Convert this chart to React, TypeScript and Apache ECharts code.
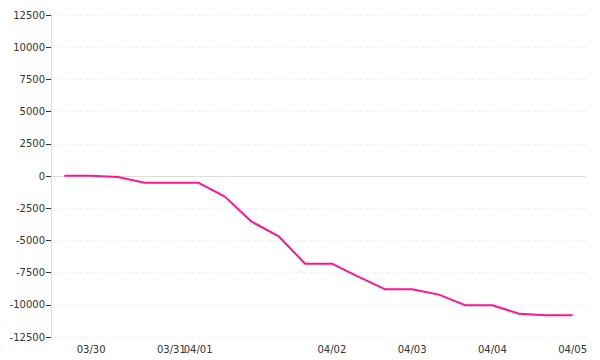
import React, { useEffect, useRef } from "react";
import * as echarts from "echarts";

const tickLabels = ["", "03/30", "", "", "03/31", "04/01", "", "", "", "", "04/02", "", "", "04/03", "", "", "04/04", "", "", "04/05"];
const categories = tickLabels.map((l, i) => `p${i}`);
const values = [20, 20, -70, -520, -520, -520, -1600, -3550, -4660, -6810, -6810, -7830, -8800, -8800, -9210, -10040, -10040, -10690, -10815, -10815];
const yTicks = [-12500, 12500, 2500];

export default function App() {
  const ref = useRef<HTMLDivElement>(null);
  useEffect(() => {
    document.body.style.margin = "0";
    const chart = echarts.init(ref.current!, null, { renderer: "svg" });
    const font = { fontFamily: "DejaVu Sans", fontSize: 10, color: "#333" };
    chart.setOption({
      animation: false,
      grid: { left: 51, right: 14, top: 15, bottom: 23 },
      xAxis: {
        type: "category",
        data: categories,
        boundaryGap: true,
        axisLine: { show: false },
        axisTick: { show: false },
        splitLine: { show: false },
        axisLabel: {
          ...font,
          interval: 0,
          margin: 7,
          formatter: (_v: string, i: number) => tickLabels[i],
        },
      },
      yAxis: {
        type: "value",
        min: yTicks[0],
        max: yTicks[1],
        interval: yTicks[2],
        axisLine: { show: true, lineStyle: { color: "#ddd", width: 1 } },
        axisTick: { show: true, length: 5, lineStyle: { color: "#333" } },
        axisLabel: { ...font, margin: 6, formatter: (v: number) => String(v) },
        splitLine: { show: true, lineStyle: { color: "#eee", type: [3, 4] } },
      },
      series: [
        {
          type: "line",
          data: [],
          silent: true,
          z: 1,
          markLine: {
            z: 1,
            silent: true,
            symbol: "none",
            label: { show: false },
            lineStyle: { color: "#ddd", type: "solid", width: 1 },
            data: [{ yAxis: 0 }],
          },
        },
        {
          type: "line",
          z: 10,
          data: values,
          showSymbol: false,
          symbol: "none",
          lineStyle: { color: "#ff1493", width: 2 },
          itemStyle: { color: "#ff1493" },
        },
      ],
    });
    return () => chart.dispose();
  }, []);
  return <div ref={ref} style={{ width: 600, height: 360 }} />;
}
